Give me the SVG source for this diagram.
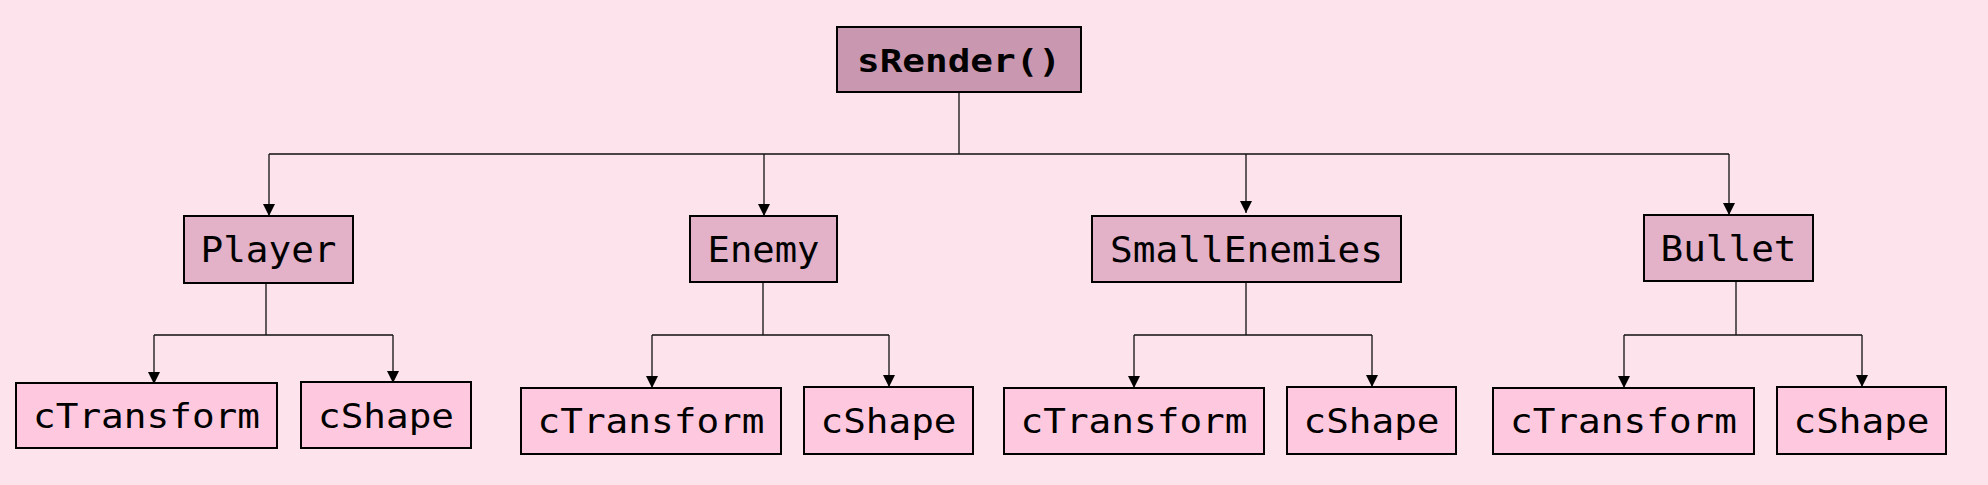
<svg xmlns="http://www.w3.org/2000/svg" width="1988" height="485" viewBox="0 0 1988 485">
<style>
.bg{fill:#FDE3EC}
.box{stroke:#000;stroke-width:2}
.l1{fill:#C997AF}
.l2{fill:#E3B1C8}
.l3{fill:#FEC9DF}
.t{font-family:"DejaVu Sans Mono","Liberation Mono",monospace;fill:#000;text-anchor:middle}
.t1{font-size:32px;font-weight:bold}
.t2{font-size:36px}
.t3{font-size:33px}
.c{fill:none;stroke:#111;stroke-width:1.3}
</style>
<defs>
<marker id="arr" markerUnits="userSpaceOnUse" markerWidth="12" markerHeight="12" refX="12" refY="6" orient="auto" viewBox="0 0 12 12">
<path d="M0,0 L12,6 L0,12 Z" fill="#000"/>
</marker>
</defs>
<rect class="bg" x="0" y="0" width="1988" height="485"/>
<g id="connectors">
<path class="c" d="M959,92 V154 M269,154 H1729"/>
<path class="c" d="M269,154 V216" marker-end="url(#arr)"/>
<path class="c" d="M764,154 V216" marker-end="url(#arr)"/>
<path class="c" d="M1246,154 V213" marker-end="url(#arr)"/>
<path class="c" d="M1729,154 V215" marker-end="url(#arr)"/>
<path class="c" d="M266,283 V335 M154,335 H393"/>
<path class="c" d="M154,335 V384" marker-end="url(#arr)"/>
<path class="c" d="M393,335 V383" marker-end="url(#arr)"/>
<path class="c" d="M763,282 V335 M652,335 H889"/>
<path class="c" d="M652,335 V388" marker-end="url(#arr)"/>
<path class="c" d="M889,335 V387" marker-end="url(#arr)"/>
<path class="c" d="M1246,282 V335 M1134,335 H1372"/>
<path class="c" d="M1134,335 V388" marker-end="url(#arr)"/>
<path class="c" d="M1372,335 V387" marker-end="url(#arr)"/>
<path class="c" d="M1736,281 V335 M1624,335 H1862"/>
<path class="c" d="M1624,335 V388" marker-end="url(#arr)"/>
<path class="c" d="M1862,335 V387" marker-end="url(#arr)"/>
</g>
<g id="sRender">
<rect class="box l1" x="837" y="27" width="244" height="65"/>
<text class="t t1" x="959" y="71.5" textLength="204" lengthAdjust="spacingAndGlyphs">sRender()</text>
</g>
<g id="Player">
<rect class="box l2" x="184" y="216" width="169" height="67"/>
<text class="t t2" x="268.5" y="262" textLength="136" lengthAdjust="spacingAndGlyphs">Player</text>
</g>
<g id="Enemy">
<rect class="box l2" x="690" y="216" width="147" height="66"/>
<text class="t t2" x="763.5" y="262" textLength="112" lengthAdjust="spacingAndGlyphs">Enemy</text>
</g>
<g id="SmallEnemies">
<rect class="box l2" x="1092" y="216" width="309" height="66"/>
<text class="t t2" x="1246.5" y="261.5" textLength="273" lengthAdjust="spacingAndGlyphs">SmallEnemies</text>
</g>
<g id="Bullet">
<rect class="box l2" x="1644" y="215" width="169" height="66"/>
<text class="t t2" x="1728.5" y="261" textLength="136" lengthAdjust="spacingAndGlyphs">Bullet</text>
</g>
<g id="Player_cTransform">
<rect class="box l3" x="16" y="383" width="261" height="65"/>
<text class="t t3" x="146.5" y="427.5" textLength="227" lengthAdjust="spacingAndGlyphs">cTransform</text>
</g>
<g id="Player_cShape">
<rect class="box l3" x="301" y="382" width="170" height="66"/>
<text class="t t3" x="386" y="427.5" textLength="136" lengthAdjust="spacingAndGlyphs">cShape</text>
</g>
<g id="Enemy_cTransform">
<rect class="box l3" x="521" y="388" width="260" height="66"/>
<text class="t t3" x="651" y="433" textLength="227" lengthAdjust="spacingAndGlyphs">cTransform</text>
</g>
<g id="Enemy_cShape">
<rect class="box l3" x="804" y="387" width="169" height="67"/>
<text class="t t3" x="888.5" y="433" textLength="136" lengthAdjust="spacingAndGlyphs">cShape</text>
</g>
<g id="SmallEnemies_cTransform">
<rect class="box l3" x="1004" y="388" width="260" height="66"/>
<text class="t t3" x="1134" y="433" textLength="227" lengthAdjust="spacingAndGlyphs">cTransform</text>
</g>
<g id="SmallEnemies_cShape">
<rect class="box l3" x="1287" y="387" width="169" height="67"/>
<text class="t t3" x="1371.5" y="433" textLength="136" lengthAdjust="spacingAndGlyphs">cShape</text>
</g>
<g id="Bullet_cTransform">
<rect class="box l3" x="1493" y="388" width="261" height="66"/>
<text class="t t3" x="1623.5" y="433" textLength="227" lengthAdjust="spacingAndGlyphs">cTransform</text>
</g>
<g id="Bullet_cShape">
<rect class="box l3" x="1777" y="387" width="169" height="67"/>
<text class="t t3" x="1861.5" y="433" textLength="136" lengthAdjust="spacingAndGlyphs">cShape</text>
</g>
</svg>
